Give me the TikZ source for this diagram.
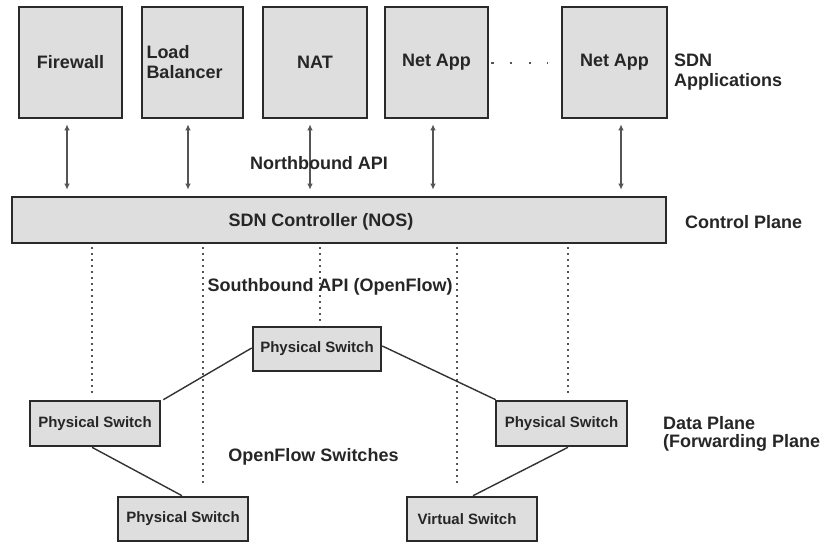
\documentclass[tikz,border=0pt]{standalone}
\usepackage{fontspec}
\setmainfont{Liberation Sans}
\usetikzlibrary{arrows.meta,calc}
\definecolor{boxfill}{HTML}{DEDEDE}
\definecolor{boxline}{HTML}{2A2A2A}
\definecolor{txt}{HTML}{262626}
\definecolor{arrowc}{HTML}{555555}
\definecolor{dotc}{HTML}{555555}
\definecolor{linkc}{HTML}{333333}
\begin{document}
\begin{tikzpicture}[x=1pt,y=-1pt,
  box/.style={draw=boxline, fill=boxfill, line width=2.6pt, inner sep=0pt, text=txt},
  appbox/.style={box, minimum height=111pt, font=\bfseries\fontsize{18}{20}\selectfont},
  swbox/.style={box, minimum height=44pt, font=\bfseries\fontsize{15}{17}\selectfont},
  lbl/.style={font=\bfseries\fontsize{18}{20}\selectfont, inner sep=0pt, text=txt},
  biarrow/.style={draw=arrowc, line width=1.5pt, {Latex[length=6pt,width=5.5pt]}-{Latex[length=6pt,width=5.5pt]}},
  dotln/.style={draw=dotc, line width=1.8pt, dash pattern=on 1.8pt off 4.2pt},
  appdots/.style={draw=dotc, line width=2.2pt, dash pattern=on 2.2pt off 16.4pt},
  link/.style={draw=linkc, line width=1.4pt}]
\useasboundingbox[fill=white] (0,0) rectangle (821,541);

% application boxes
\node[appbox, minimum width=103pt] (fw)  at (70.5,62.5) {Firewall};
\node[appbox, minimum width=101pt, align=left, text width=92pt, inner xsep=4.5pt] (lb) at (192.5,62.5) {Load\\Balancer};
\node[appbox, minimum width=104pt] (nat) at (315,62.5) {NAT};
\node[appbox, minimum width=103pt] (na1) at (436.5,62.5) {Net App};
\node[appbox, minimum width=105pt] (na2) at (614.5,62.5) {Net App};
\draw[appdots] ($(na1.east)+(2,0.5)$) -- ($(na2.west)+(-13,0.5)$);

% controller
\node[box, minimum width=654pt, minimum height=46pt] (ctrl) at (339,220) {};
\node[lbl] (ctrltxt) at (321,222) {SDN Controller (NOS)};

% northbound arrows
\draw[biarrow] ($(fw.south)+(-3.5,5)$)  -- ($(fw.south |- ctrl.north)+(-3.5,-6)$);
\draw[biarrow] ($(lb.south)+(-4.5,5)$)  -- ($(lb.south |- ctrl.north)+(-4.5,-6)$);
\draw[biarrow] ($(nat.south)+(-5,5)$)   -- ($(nat.south |- ctrl.north)+(-5,-6)$);
\draw[biarrow] ($(na1.south)+(-3.5,5)$) -- ($(na1.south |- ctrl.north)+(-3.5,-6)$);
\draw[biarrow] ($(na2.south)+(6.5,5)$)  -- ($(na2.south |- ctrl.north)+(6.5,-6)$);

% switches
\node[swbox, minimum width=128pt] (ps0) at (317,349) {Physical Switch};
\node[swbox, minimum width=130pt, minimum height=45pt] (ps1) at (95,423.5) {Physical Switch};
\node[swbox, minimum width=131pt, minimum height=45pt] (ps2) at (561.5,423.5) {Physical Switch};
\node[swbox, minimum width=130pt] (ps3) at (183,519) {Physical Switch};
\node[swbox, minimum width=130pt] (vs) at (472,519) {\hspace*{-10pt}Virtual Switch};

% southbound dotted lines
\coordinate (e1) at (203,487);
\coordinate (e2) at (457,487);
\draw[dotln] ($(ctrl.south -| ps1.north)+(-3,3)$) -- ($(ps1.north)+(-3,-5)$);
\draw[dotln] ($(ctrl.south -| e1)+(0,3)$) -- (e1);
\draw[dotln] ($(ctrl.south -| ps0.north)+(3,3)$) -- ($(ps0.north)+(3,-5)$);
\draw[dotln] ($(ctrl.south -| e2)+(0,3)$) -- (e2);
\draw[dotln] ($(ctrl.south -| ps2.north)+(6.5,3)$) -- ($(ps2.north)+(6.5,-5)$);

% links
\draw[link] ($(ps0.west)+(0,-1)$) -- ($(ps1.north east)+(2,0)$);
\draw[link] ($(ps0.east)+(0,-3)$) -- ($(ps2.north west)+(1,0)$);
\draw[link] ($(ps1.south)+(-3,0)$) -- ($(ps3.north)+(-1,0)$);
\draw[link] ($(ps2.south)+(6.5,0)$) -- ($(vs.north)+(1,0)$);

% labels
\node[lbl, anchor=west, align=left] (sdnapp) at (674,72) {SDN\\Applications};
\node[lbl] (nb) at (319,163) {Northbound API};
\node[lbl, anchor=west] (cp) at (685,222) {Control Plane};
\node[lbl] (sb) at (330,287) {Southbound API (OpenFlow)};
\node[lbl] (ofs) at (313.5,457) {OpenFlow Switches};
\node[lbl, anchor=west, align=left, font=\bfseries\fontsize{18}{18}\selectfont] (dp) at (663,434) {Data Plane\\(Forwarding Plane};
\end{tikzpicture}
\end{document}
